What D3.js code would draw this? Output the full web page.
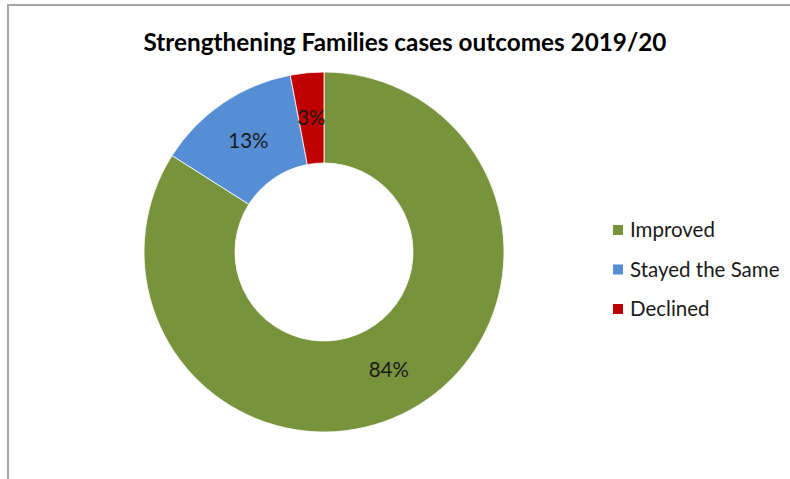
<!DOCTYPE html>
<html>
<head>
<meta charset="utf-8">
<script src="https://cdn.jsdelivr.net/npm/d3@7"></script>
<style>
  body { margin: 0; background: #fff; }
  svg { display: block; font-family: Lato, "Open Sans", sans-serif; }
</style>
</head>
<body>
<script>
// data
const categories = ['Improved', 'Stayed the Same', 'Declined'];
const values = [84, 13, 3];
const colors = ['#77933C', '#558ED5', '#C00000'];
const title = 'Strengthening Families cases outcomes 2019/20';

// layout
const width = 790;
const height = 479;
const cx = 324;
const cy = 252;
const outerR = 180;
const innerR = 89;

const svg = d3.select('body')
    .append('svg')
    .attr('width', width)
    .attr('height', height);

// chart frame
svg.append('rect')
    .attr('x', 8)
    .attr('y', 5)
    .attr('width', width + 20)
    .attr('height', height + 20)
    .attr('fill', 'none')
    .attr('stroke', '#a6a6a6')
    .attr('stroke-width', 2);

svg.append('text')
    .attr('x', 405)
    .attr('y', 51)
    .attr('text-anchor', 'middle')
    .attr('font-size', 24.3)
    .attr('font-weight', 'bold')
    .attr('fill', '#000')
    .text(title);

const pie = d3.pie().sort(null);
const arc = d3.arc().innerRadius(innerR).outerRadius(outerR);
const labelArc = d3.arc().innerRadius((innerR + outerR) / 2).outerRadius((innerR + outerR) / 2);

const g = svg.append('g')
    .attr('transform', 'translate(' + cx + ',' + cy + ')');

const slices = pie(values);

g.selectAll('path')
    .data(slices)
    .enter()
    .append('path')
    .attr('d', arc)
    .attr('fill', (d, i) => colors[i])
    .attr('stroke', '#fff')
    .attr('stroke-width', 0.8);

g.selectAll('text')
    .data(slices)
    .enter()
    .append('text')
    .attr('transform', d => 'translate(' + labelArc.centroid(d) + ')')
    .attr('text-anchor', 'middle')
    .attr('dy', '0.35em')
    .attr('font-size', 20.5)
    .attr('fill', '#1a1a1a')
    .text(d => d.data + '%');

// legend
const legend = svg.append('g')
    .attr('transform', 'translate(613, 230)');

const item = legend.selectAll('g')
    .data(categories)
    .enter()
    .append('g')
    .attr('transform', (d, i) => 'translate(0,' + i * 39.5 + ')');

item.append('rect')
    .attr('x', 0)
    .attr('y', -5)
    .attr('width', 10)
    .attr('height', 10)
    .attr('fill', (d, i) => colors[i]);

item.append('text')
    .attr('x', 17)
    .attr('dy', '0.35em')
    .attr('font-size', 20.5)
    .attr('fill', '#1a1a1a')
    .text(d => d);
</script>
</body>
</html>
